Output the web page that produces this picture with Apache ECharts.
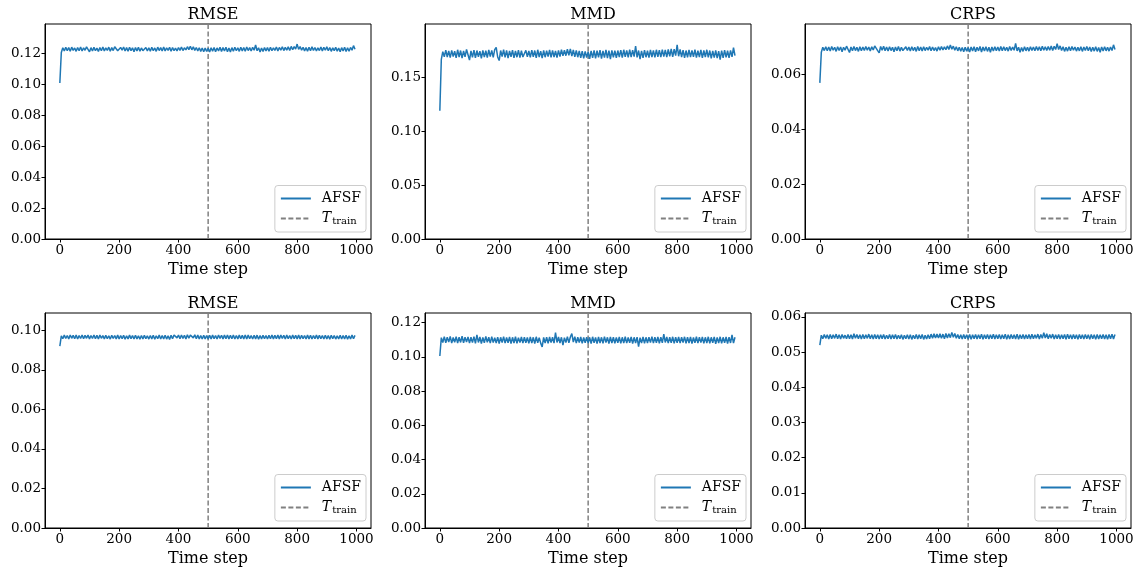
<!DOCTYPE html>
<html><head><meta charset="utf-8">
<script src="https://cdn.jsdelivr.net/npm/echarts@6/dist/echarts.min.js"></script>
<style>html,body{margin:0;padding:0;background:#fff}#c{width:1140px;height:570px}</style>
</head><body><div id="c"></div><script>
// ---- data ----
const titles = ['RMSE', 'MMD', 'CRPS', 'RMSE', 'MMD', 'CRPS'];
const xTicks = [0, 200, 400, 600, 800, 1000];
const yTicksRmseTop = [0, 0.02, 0.04, 0.06, 0.08, 0.10, 0.12];
const yTicksMmdTop = [0, 0.05, 0.10, 0.15];
const yTicksCrpsTop = [0, 0.02, 0.04, 0.06];
const yTicksRmseBot = [0, 0.02, 0.04, 0.06, 0.08, 0.10];
const yTicksMmdBot = [0, 0.02, 0.04, 0.06, 0.08, 0.10, 0.12];
const yTicksCrpsBot = [0, 0.01, 0.02, 0.03, 0.04, 0.05, 0.06];
const yLimits = [0.1392, 0.1994, 0.0785, 0.1088, 0.1256, 0.0611];
const xLimits = [-50, 1049];
const T_TRAIN = 500;
const STEP = 5; // one sampled value every 5 time steps

const rmseTop = [
0.1010,0.1208,0.1238,0.1218,0.1241,0.1220,0.1239,0.1216,0.1242,0.1221,0.1237,0.1215,0.1240,0.1219,0.1243,0.1217,0.1238,0.1222,0.1244,0.1250,
0.1212,0.1239,0.1217,0.1241,0.1220,0.1236,0.1214,0.1240,0.1219,0.1243,0.1218,0.1237,0.1221,0.1242,0.1216,0.1239,0.1220,0.1245,0.1253,0.1219,
0.1207,0.1240,0.1222,0.1243,0.1217,0.1239,0.1215,0.1241,0.1220,0.1238,0.1213,0.1240,0.1218,0.1242,0.1216,0.1237,0.1219,0.1211,0.1240,0.1218,
0.1238,0.1216,0.1241,0.1219,0.1237,0.1215,0.1242,0.1220,0.1239,0.1217,0.1243,0.1218,0.1238,0.1221,0.1241,0.1216,0.1240,0.1219,0.1236,0.1217,
0.1240,0.1221,0.1243,0.1220,0.1238,0.1224,0.1245,0.1226,0.1248,0.1225,0.1244,0.1221,0.1240,0.1218,0.1238,0.1215,0.1237,0.1212,0.1236,0.1214,
0.1235,0.1211,0.1238,0.1216,0.1240,0.1213,0.1237,0.1218,0.1242,0.1214,0.1239,0.1217,0.1241,0.1212,0.1236,0.1210,0.1239,0.1216,0.1241,0.1219,
0.1238,0.1215,0.1242,0.1218,0.1240,0.1216,0.1243,0.1220,0.1239,0.1217,0.1241,0.1222,0.1256,0.1219,0.1238,0.1211,0.1237,0.1214,0.1240,0.1218,
0.1239,0.1216,0.1242,0.1219,0.1238,0.1221,0.1243,0.1218,0.1240,0.1222,0.1245,0.1220,0.1241,0.1223,0.1244,0.1221,0.1247,0.1225,0.1246,0.1230,
0.1262,0.1228,0.1246,0.1222,0.1241,0.1218,0.1239,0.1215,0.1242,0.1219,0.1244,0.1221,0.1240,0.1217,0.1238,0.1220,0.1243,0.1218,0.1241,0.1222,
0.1244,0.1219,0.1240,0.1215,0.1238,0.1220,0.1241,0.1216,0.1237,0.1212,0.1239,0.1217,0.1242,0.1214,0.1238,0.1216,0.1240,0.1222,0.1252,0.1228
];
const mmdTop = [
0.1190,0.1665,0.1738,0.1690,0.1752,0.1688,0.1745,0.1682,0.1750,0.1692,0.1741,0.1680,0.1755,0.1686,0.1748,0.1678,0.1744,0.1690,0.1758,0.1775,
0.1660,0.1745,0.1684,0.1752,0.1680,0.1748,0.1690,0.1742,0.1676,0.1750,0.1688,0.1746,0.1682,0.1754,0.1692,0.1749,0.1685,0.1756,0.1778,0.1688,
0.1655,0.1748,0.1692,0.1756,0.1684,0.1750,0.1678,0.1745,0.1690,0.1752,0.1680,0.1744,0.1686,0.1751,0.1682,0.1747,0.1688,0.1672,0.1750,0.1690,
0.1745,0.1684,0.1752,0.1690,0.1748,0.1680,0.1755,0.1688,0.1742,0.1678,0.1750,0.1686,0.1746,0.1692,0.1753,0.1684,0.1749,0.1688,0.1744,0.1682,
0.1750,0.1692,0.1756,0.1698,0.1752,0.1700,0.1760,0.1704,0.1762,0.1696,0.1754,0.1690,0.1748,0.1686,0.1745,0.1680,0.1742,0.1676,0.1740,0.1682,
0.1738,0.1670,0.1744,0.1680,0.1750,0.1676,0.1746,0.1684,0.1752,0.1672,0.1745,0.1682,0.1754,0.1678,0.1748,0.1668,0.1750,0.1684,0.1746,0.1680,
0.1748,0.1686,0.1752,0.1682,0.1755,0.1690,0.1750,0.1684,0.1756,0.1688,0.1751,0.1692,0.1790,0.1685,0.1748,0.1668,0.1744,0.1680,0.1752,0.1686,
0.1746,0.1682,0.1753,0.1688,0.1749,0.1684,0.1755,0.1690,0.1751,0.1686,0.1757,0.1692,0.1754,0.1688,0.1758,0.1694,0.1762,0.1690,0.1760,0.1700,
0.1800,0.1695,0.1758,0.1688,0.1752,0.1680,0.1748,0.1684,0.1754,0.1686,0.1750,0.1690,0.1756,0.1682,0.1747,0.1686,0.1753,0.1680,0.1750,0.1688,
0.1755,0.1684,0.1748,0.1676,0.1745,0.1682,0.1750,0.1678,0.1742,0.1664,0.1748,0.1680,0.1752,0.1684,0.1746,0.1680,0.1750,0.1690,0.1775,0.1700
];
const crpsTop = [
0.0570,0.0682,0.0700,0.0688,0.0702,0.0687,0.0701,0.0686,0.0703,0.0689,0.0700,0.0685,0.0702,0.0688,0.0701,0.0684,0.0700,0.0689,0.0704,0.0710,
0.0681,0.0701,0.0687,0.0703,0.0688,0.0700,0.0685,0.0702,0.0687,0.0701,0.0688,0.0703,0.0689,0.0701,0.0686,0.0702,0.0690,0.0705,0.0712,0.0688,
0.0680,0.0703,0.0689,0.0704,0.0687,0.0701,0.0686,0.0702,0.0688,0.0700,0.0684,0.0701,0.0687,0.0703,0.0686,0.0700,0.0688,0.0682,0.0702,0.0688,
0.0701,0.0686,0.0702,0.0688,0.0700,0.0685,0.0703,0.0687,0.0701,0.0686,0.0702,0.0688,0.0700,0.0689,0.0703,0.0687,0.0701,0.0688,0.0699,0.0686,
0.0702,0.0689,0.0703,0.0690,0.0702,0.0691,0.0705,0.0692,0.0708,0.0693,0.0704,0.0689,0.0702,0.0687,0.0700,0.0686,0.0699,0.0684,0.0700,0.0686,
0.0699,0.0683,0.0701,0.0686,0.0702,0.0684,0.0700,0.0687,0.0703,0.0683,0.0701,0.0686,0.0702,0.0685,0.0700,0.0682,0.0701,0.0686,0.0702,0.0687,
0.0701,0.0686,0.0703,0.0687,0.0702,0.0688,0.0700,0.0686,0.0703,0.0688,0.0701,0.0689,0.0714,0.0687,0.0700,0.0682,0.0699,0.0685,0.0702,0.0687,
0.0700,0.0686,0.0702,0.0688,0.0701,0.0687,0.0703,0.0688,0.0702,0.0687,0.0704,0.0689,0.0702,0.0688,0.0703,0.0689,0.0705,0.0688,0.0704,0.0692,
0.0713,0.0692,0.0705,0.0688,0.0702,0.0685,0.0700,0.0686,0.0702,0.0687,0.0703,0.0689,0.0701,0.0686,0.0700,0.0687,0.0702,0.0685,0.0701,0.0688,
0.0703,0.0687,0.0701,0.0685,0.0700,0.0686,0.0702,0.0685,0.0699,0.0682,0.0701,0.0686,0.0702,0.0687,0.0700,0.0686,0.0701,0.0688,0.0709,0.0692
];
const rmseBot = [
0.0920,0.0972,0.0958,0.0976,0.0959,0.0974,0.0957,0.0977,0.0960,0.0975,0.0958,0.0976,0.0956,0.0974,0.0959,0.0977,0.0958,0.0975,0.0960,0.0976,
0.0957,0.0974,0.0959,0.0977,0.0958,0.0975,0.0956,0.0976,0.0960,0.0974,0.0957,0.0975,0.0958,0.0973,0.0956,0.0975,0.0959,0.0974,0.0957,0.0976,
0.0956,0.0974,0.0958,0.0975,0.0955,0.0973,0.0957,0.0976,0.0958,0.0974,0.0956,0.0975,0.0957,0.0973,0.0955,0.0974,0.0957,0.0975,0.0958,0.0973,
0.0956,0.0974,0.0957,0.0975,0.0955,0.0973,0.0958,0.0976,0.0956,0.0974,0.0957,0.0975,0.0956,0.0973,0.0954,0.0975,0.0958,0.0977,0.0984,0.0962,
0.0976,0.0958,0.0977,0.0959,0.0975,0.0957,0.0978,0.0960,0.0976,0.0981,0.0962,0.0978,0.0958,0.0976,0.0957,0.0974,0.0956,0.0975,0.0957,0.0974,
0.0956,0.0975,0.0957,0.0976,0.0958,0.0974,0.0956,0.0977,0.0959,0.0975,0.0957,0.0976,0.0958,0.0977,0.0957,0.0975,0.0958,0.0976,0.0956,0.0974,
0.0957,0.0976,0.0958,0.0975,0.0957,0.0977,0.0956,0.0976,0.0958,0.0974,0.0956,0.0975,0.0957,0.0976,0.0955,0.0974,0.0957,0.0975,0.0958,0.0974,
0.0956,0.0975,0.0958,0.0977,0.0957,0.0975,0.0958,0.0976,0.0957,0.0977,0.0959,0.0975,0.0956,0.0976,0.0958,0.0974,0.0957,0.0976,0.0958,0.0975,
0.0957,0.0976,0.0956,0.0975,0.0958,0.0974,0.0956,0.0976,0.0957,0.0975,0.0956,0.0974,0.0958,0.0976,0.0957,0.0975,0.0958,0.0974,0.0956,0.0975,
0.0957,0.0974,0.0955,0.0975,0.0958,0.0974,0.0956,0.0973,0.0957,0.0975,0.0956,0.0974,0.0957,0.0975,0.0955,0.0973,0.0957,0.0976,0.0958,0.0975
];
const mmdBot = [
0.1005,0.1112,0.1084,0.1118,0.1082,0.1114,0.1086,0.1119,0.1080,0.1113,0.1085,0.1117,0.1081,0.1115,0.1084,0.1120,0.1082,0.1114,0.1086,0.1116,
0.1080,0.1115,0.1083,0.1118,0.1079,0.1128,0.1084,0.1116,0.1078,0.1113,0.1082,0.1119,0.1085,0.1114,0.1080,0.1117,0.1083,0.1112,0.1081,0.1115,
0.1078,0.1114,0.1083,0.1117,0.1080,0.1113,0.1082,0.1116,0.1077,0.1114,0.1081,0.1118,0.1079,0.1112,0.1083,0.1116,0.1080,0.1114,0.1082,0.1113,
0.1079,0.1116,0.1081,0.1114,0.1078,0.1117,0.1082,0.1112,0.1080,0.1058,0.1113,0.1081,0.1115,0.1079,0.1116,0.1083,0.1114,0.1080,0.1142,0.1084,
0.1116,0.1081,0.1114,0.1068,0.1112,0.1084,0.1118,0.1082,0.1116,0.1136,0.1086,0.1117,0.1080,0.1114,0.1083,0.1116,0.1079,0.1113,0.1082,0.1115,
0.1080,0.1114,0.1078,0.1117,0.1082,0.1113,0.1077,0.1116,0.1081,0.1114,0.1079,0.1118,0.1083,0.1114,0.1078,0.1116,0.1081,0.1115,0.1079,0.1113,
0.1082,0.1116,0.1079,0.1114,0.1081,0.1117,0.1080,0.1113,0.1082,0.1116,0.1078,0.1114,0.1081,0.1115,0.1060,0.1112,0.1081,0.1116,0.1079,0.1114,
0.1081,0.1115,0.1083,0.1117,0.1080,0.1114,0.1082,0.1116,0.1079,0.1115,0.1082,0.1132,0.1084,0.1116,0.1080,0.1114,0.1082,0.1117,0.1079,0.1115,
0.1082,0.1116,0.1080,0.1114,0.1083,0.1117,0.1079,0.1115,0.1081,0.1116,0.1078,0.1113,0.1082,0.1117,0.1080,0.1115,0.1083,0.1116,0.1079,0.1114,
0.1081,0.1117,0.1079,0.1114,0.1082,0.1116,0.1076,0.1113,0.1081,0.1117,0.1079,0.1114,0.1082,0.1116,0.1078,0.1115,0.1081,0.1128,0.1080,0.1114
];
const crpsBot = [
0.0520,0.0548,0.0538,0.0550,0.0539,0.0549,0.0537,0.0550,0.0538,0.0549,0.0539,0.0551,0.0538,0.0549,0.0537,0.0550,0.0539,0.0548,0.0538,0.0550,
0.0538,0.0549,0.0537,0.0552,0.0539,0.0550,0.0538,0.0549,0.0537,0.0550,0.0538,0.0549,0.0539,0.0551,0.0538,0.0549,0.0537,0.0550,0.0538,0.0549,
0.0537,0.0549,0.0538,0.0550,0.0537,0.0548,0.0538,0.0550,0.0537,0.0549,0.0538,0.0550,0.0537,0.0548,0.0538,0.0549,0.0536,0.0548,0.0538,0.0549,
0.0537,0.0549,0.0536,0.0548,0.0538,0.0550,0.0537,0.0549,0.0538,0.0550,0.0536,0.0548,0.0537,0.0549,0.0538,0.0551,0.0539,0.0552,0.0540,0.0551,
0.0540,0.0552,0.0539,0.0551,0.0538,0.0553,0.0540,0.0552,0.0541,0.0556,0.0542,0.0553,0.0539,0.0550,0.0538,0.0549,0.0537,0.0550,0.0538,0.0549,
0.0537,0.0550,0.0536,0.0549,0.0538,0.0550,0.0537,0.0549,0.0538,0.0551,0.0536,0.0549,0.0538,0.0550,0.0537,0.0549,0.0538,0.0551,0.0537,0.0549,
0.0538,0.0550,0.0537,0.0549,0.0538,0.0551,0.0536,0.0549,0.0537,0.0550,0.0538,0.0549,0.0537,0.0551,0.0536,0.0549,0.0538,0.0550,0.0537,0.0549,
0.0538,0.0550,0.0537,0.0551,0.0538,0.0549,0.0539,0.0551,0.0537,0.0550,0.0539,0.0555,0.0540,0.0552,0.0538,0.0550,0.0539,0.0551,0.0537,0.0549,
0.0538,0.0550,0.0537,0.0549,0.0538,0.0550,0.0536,0.0551,0.0538,0.0549,0.0537,0.0550,0.0538,0.0549,0.0536,0.0550,0.0538,0.0549,0.0537,0.0550,
0.0538,0.0549,0.0536,0.0550,0.0538,0.0549,0.0536,0.0550,0.0537,0.0549,0.0538,0.0550,0.0537,0.0549,0.0536,0.0550,0.0538,0.0551,0.0537,0.0550
];

const seriesValues = [rmseTop, mmdTop, crpsTop, rmseBot, mmdBot, crpsBot];
const yTickSets = [yTicksRmseTop, yTicksMmdTop, yTicksCrpsTop, yTicksRmseBot, yTicksMmdBot, yTicksCrpsBot];

// ---- layout ----
const W = 1140, H = 570;
const colLeft = [45, 425, 805];
const rowTop = [24, 313];
const PW = 326, PH = 215;
const FONT = "'DejaVu Serif', 'Liberation Serif', serif";
const BLUE = '#1f77b4';
const GRAY = '#808080';

const option = {
  backgroundColor: '#ffffff',
  animation: false,
  title: [], grid: [], xAxis: [], yAxis: [], series: [], legend: []
};

for (let k = 0; k < 6; k++) {
  const r = Math.floor(k / 3), c = k % 3;
  const left = colLeft[c], top = rowTop[r];
  option.title.push({
    text: titles[k], left: left + PW / 2, top: top - 22, textAlign: 'center',
    textStyle: { fontFamily: FONT, fontSize: 16, fontWeight: 'normal', color: '#000' }
  });
  option.grid.push({
    left: left, top: top, width: PW, height: PH, show: true,
    borderColor: '#000', borderWidth: 1, backgroundColor: 'transparent',
    containLabel: false, outerBoundsMode: 'none'
  });
  option.xAxis.push({
    type: 'value', gridIndex: k, min: xLimits[0], max: xLimits[1],
    name: 'Time step', nameLocation: 'middle', nameGap: 23,
    nameTextStyle: { fontFamily: FONT, fontSize: 16, color: '#000' },
    axisLine: { show: true, onZero: false, lineStyle: { color: '#000', width: 1 } },
    axisTick: { show: true, length: 3.5, customValues: xTicks, lineStyle: { color: '#000' } },
    axisLabel: { customValues: xTicks, margin: 4, fontFamily: FONT, fontSize: 13.5, color: '#000',
      formatter: v => String(v) },
    splitLine: { show: false }
  });
  const yt = yTickSets[k];
  option.yAxis.push({
    type: 'value', gridIndex: k, min: 0, max: yLimits[k],
    axisLine: { show: true, onZero: false, lineStyle: { color: '#000', width: 1 } },
    axisTick: { show: true, length: 3.5, customValues: yt, lineStyle: { color: '#000' } },
    axisLabel: { customValues: yt, margin: 4, fontFamily: FONT, fontSize: 13.5, color: '#000',
      formatter: v => v.toFixed(2) },
    splitLine: { show: false }
  });
  option.series.push({
    name: 'AFSF', type: 'line', xAxisIndex: k, yAxisIndex: k,
    data: seriesValues[k].map((v, i) => [i * STEP, v]),
    showSymbol: false, symbol: 'none', color: BLUE,
    lineStyle: { color: BLUE, width: 1.5 }, z: 3
  });
  option.series.push({
    name: 'T_train', type: 'line', xAxisIndex: k, yAxisIndex: k,
    data: [[T_TRAIN, 0], [T_TRAIN, yLimits[k]]],
    showSymbol: false, symbol: 'none', color: GRAY,
    lineStyle: { color: GRAY, width: 1.5, type: [5, 2.5] }, z: 2
  });
  option.legend.push({
    orient: 'vertical',
    right: W - (left + PW - 5),
    bottom: H - (top + PH - 7),
    data: ['AFSF', 'T_train'],
    itemWidth: 30, itemHeight: 14, itemGap: 6,
    padding: [6, 5, 6, 5],
    backgroundColor: 'rgba(255,255,255,0.8)',
    borderColor: '#cccccc', borderWidth: 1, borderRadius: 3,
    selectedMode: false,
    itemStyle: { opacity: 0 },
    formatter: name => name === 'AFSF' ? '{n|AFSF}' : '{i|T}{s|train}',
    textStyle: {
      fontFamily: FONT, fontSize: 14, color: '#000',
      rich: {
        n: { fontFamily: FONT, fontSize: 14, color: '#000', padding: [0, 0, 0, 6] },
        i: { fontFamily: FONT, fontSize: 14, fontStyle: 'italic', color: '#000', padding: [0, 0, 0, 6] },
        s: { fontFamily: FONT, fontSize: 10, color: '#000', padding: [5, 0, 0, 1] }
      }
    }
  });
}

const chart = echarts.init(document.getElementById('c'), null, { renderer: 'canvas', width: W, height: H });
chart.setOption(option);
</script></body></html>
